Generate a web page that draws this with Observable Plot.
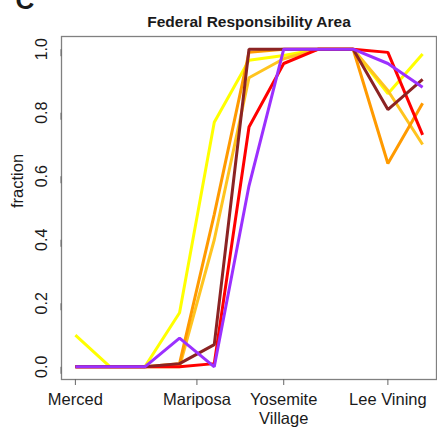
<!DOCTYPE html>
<html>
<head>
<meta charset="utf-8">
<script src="https://cdn.jsdelivr.net/npm/d3@7"></script>
<script src="https://cdn.jsdelivr.net/npm/@observablehq/plot@0.6"></script>
<style>
  body { margin: 0; background: #fff; }
  #chart svg { display: block; }
</style>
</head>
<body>
<div id="chart"></div>
<script>
// Stops along the route (0 = Merced ... 10 = past Lee Vining)
const stops = [0, 1, 2, 3, 4, 5, 6, 7, 8, 9, 10];

// Town labels on the x axis and where they sit along the route
const townLabels = ["Merced", "Mariposa", "Yosemite\nVillage", "Lee Vining"];
const townStops = [0, 3.5, 6, 9];

// Fraction of area under federal responsibility, one list per run
const yellowFrac  = [0.10, 0, 0, 0.17, 0.77, 0.965, 0.98, 1.0, 1.0, 0.86, 0.985];
const goldFrac    = [0, 0, 0, 0, 0.40, 0.91, 0.97, 1.0, 1.0, 0.87, 0.70];
const orangeFrac  = [0, 0, 0, 0.01, 0.48, 0.99, 1.0, 1.0, 1.0, 0.64, 0.83];
const redFrac     = [0, 0, 0, 0, 0.01, 0.755, 0.955, 1.0, 1.0, 0.99, 0.73];
const darkredFrac = [0, 0, 0, 0.01, 0.07, 1.0, 1.0, 1.0, 1.0, 0.81, 0.905];
const purpleFrac  = [0, 0, 0, 0.09, 0, 0.57, 1.0, 1.0, 1.0, 0.955, 0.88];

const yTicks = [0, 0.2, 0.4, 0.6, 0.8, 1.0];

const series = [
  {values: yellowFrac,  color: "#ffff00"},
  {values: goldFrac,    color: "#ffc41f"},
  {values: orangeFrac,  color: "#ff9a00"},
  {values: redFrac,     color: "#ff0000"},
  {values: darkredFrac, color: "#8b2323"},
  {values: purpleFrac,  color: "#9b30ff"}
];

const font = "'Liberation Sans', Arial, Helvetica, sans-serif";

const lineMarks = series.map(s =>
  Plot.line(stops.map((st, i) => ({stop: st, frac: s.values[i]})), {
    x: "stop", y: "frac", stroke: s.color, strokeWidth: 3,
    strokeLinejoin: "miter", strokeLinecap: "butt"
  })
);

const chart = Plot.plot({
  width: 437,
  height: 430,
  marginLeft: 61,
  marginRight: 1,
  marginTop: 36,
  marginBottom: 51,
  style: {fontFamily: font, fontSize: "16.5px", color: "#1a1a1a", background: "#fff"},
  x: {domain: [-0.4, 10.4]},
  y: {domain: [-0.04, 1.04]},
  marks: [
    Plot.frame({stroke: "#808080", strokeWidth: 1.3}),
    Plot.axisY({
      ticks: yTicks, tickFormat: d3.format(".1f"),
      rotate: -90, textAnchor: "middle",
      tickSize: 7, tickPadding: 13, fontSize: 16,
      stroke: "#666", fill: "#1a1a1a", label: null
    }),
    Plot.axisX({
      ticks: townStops,
      tickFormat: d => townLabels[townStops.indexOf(d)],
      tickSize: 6, tickPadding: 5, lineHeight: 1.2, fontSize: 16.5,
      stroke: "#666", fill: "#1a1a1a", label: null
    }),
    ...lineMarks,
    Plot.text(["Federal Responsibility Area"], {
      frameAnchor: "top", dy: -21, fontWeight: "bold", fontSize: 15.5, fill: "#1a1a1a"
    }),
    Plot.text(["fraction"], {
      frameAnchor: "left", dx: -44, rotate: -90, fontSize: 16.5, fill: "#1a1a1a"
    }),
    Plot.text(["C"], {
      frameAnchor: "top-left", dx: -46, dy: -36, lineAnchor: "middle",
      fontSize: 26, fontWeight: "bold", fill: "#1a1a1a"
    })
  ]
});

document.getElementById("chart").appendChild(chart);
</script>
</body>
</html>
